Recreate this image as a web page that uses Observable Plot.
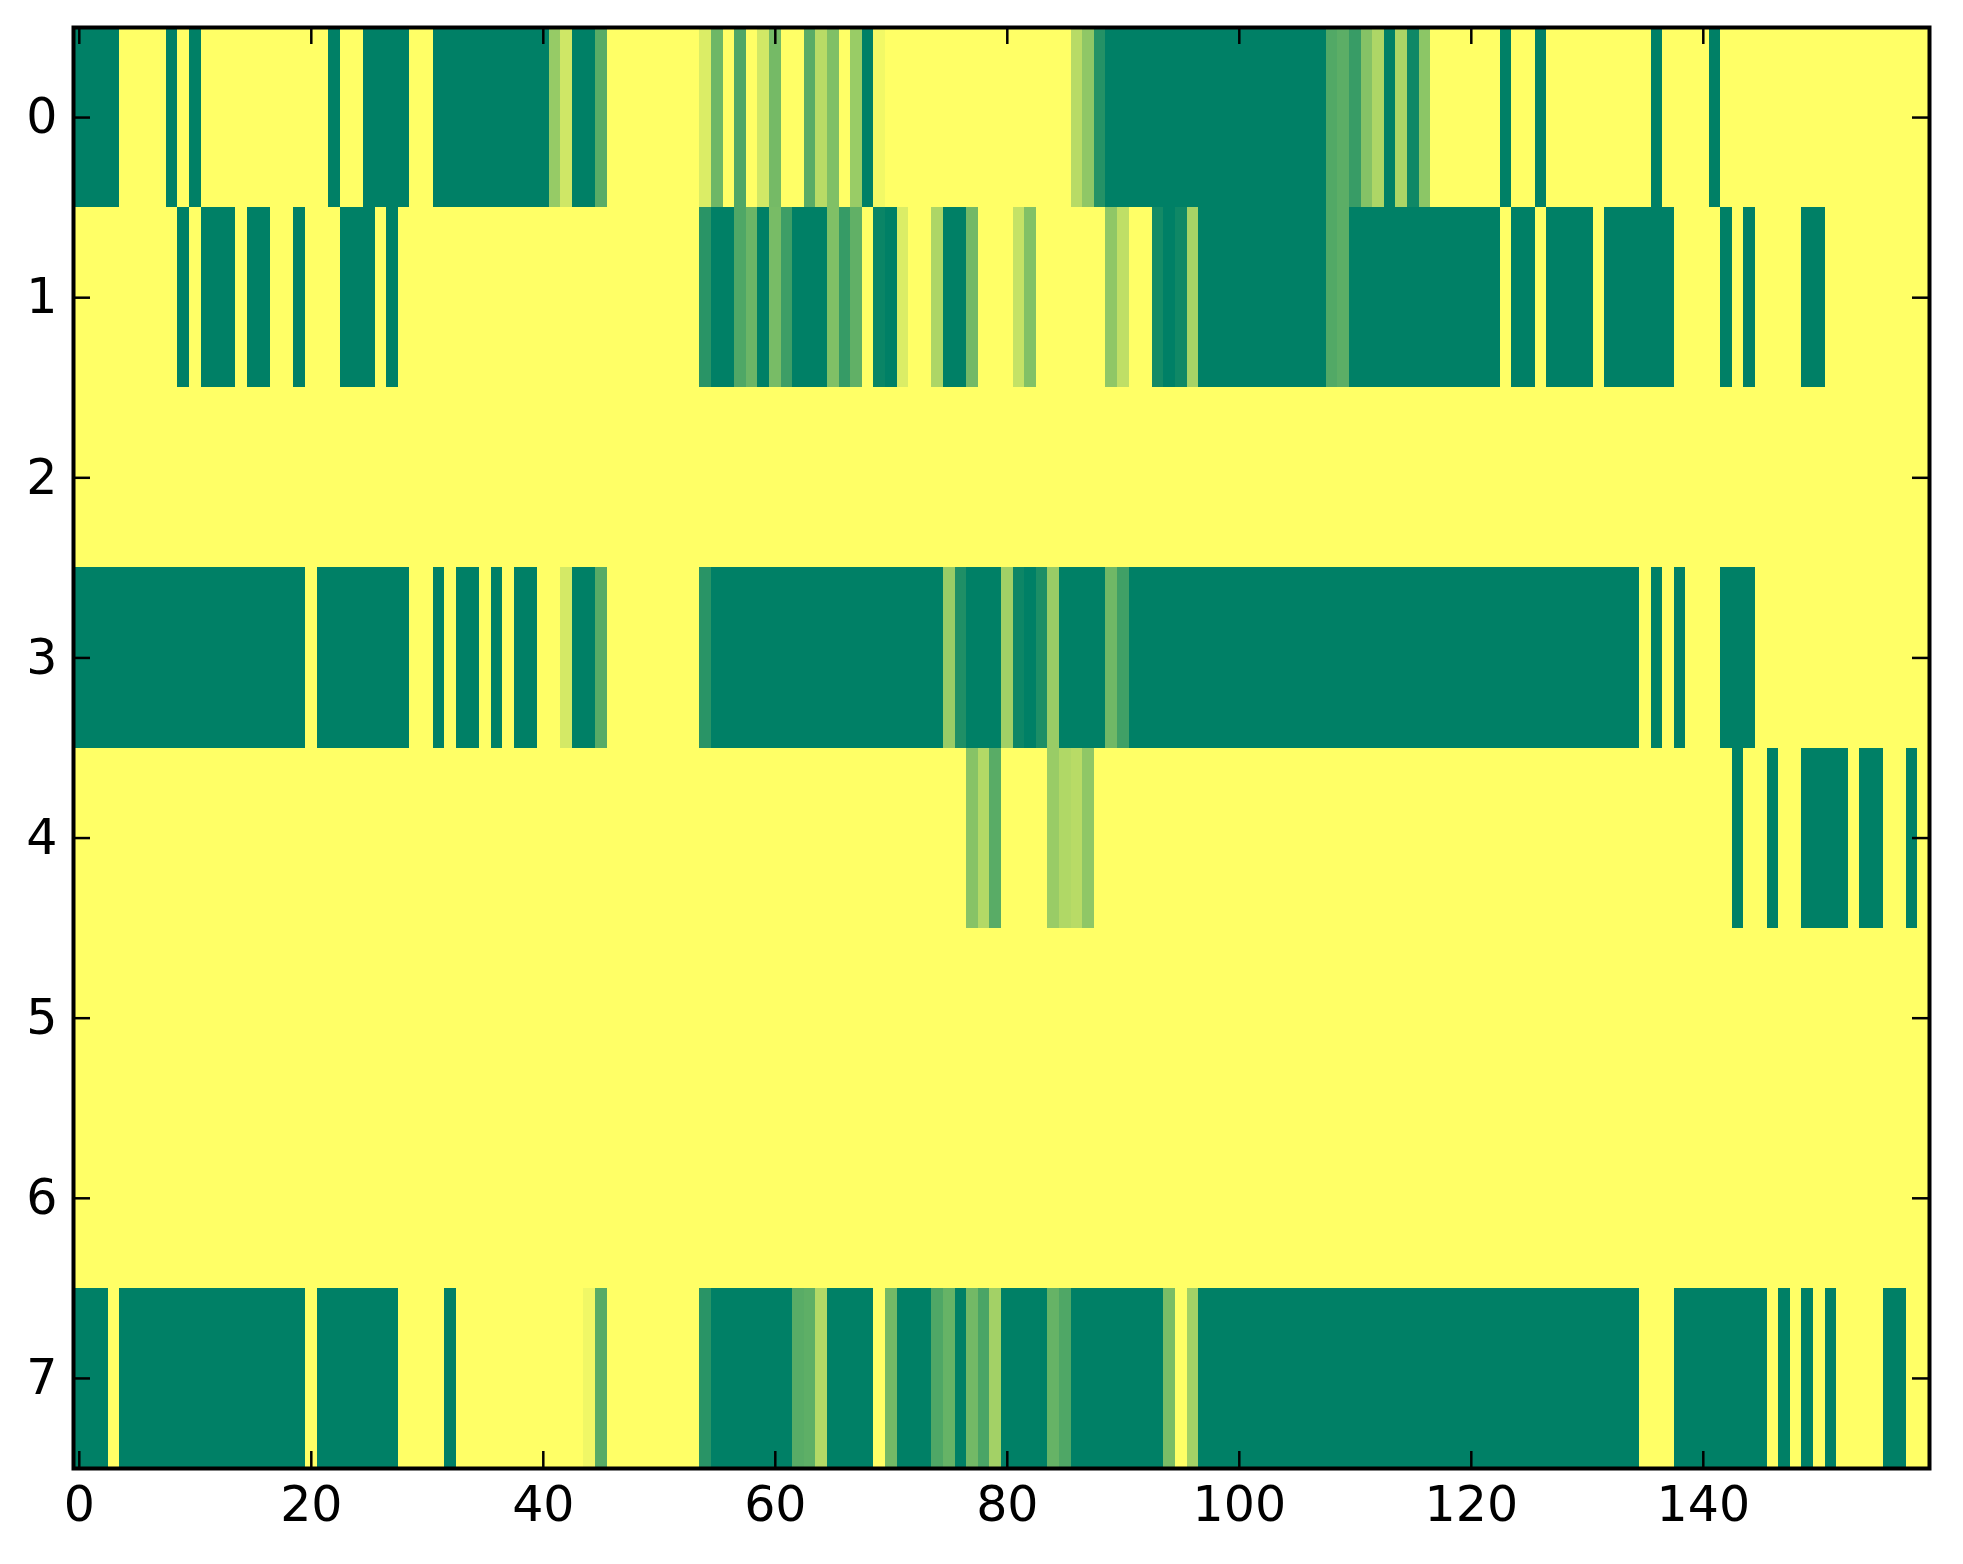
<!DOCTYPE html>
<html><head><meta charset="utf-8">
<script src="https://cdn.jsdelivr.net/npm/d3@7"></script>
<script src="https://cdn.jsdelivr.net/npm/@observablehq/plot@0.6"></script>
<style>html,body{margin:0;padding:0;background:#fff}</style>
</head><body><div id="chart"></div>
<script>
const row0 = [
0,0,0,0,1,1,1,1,0,1,
0,1,1,1,1,1,1,1,1,1,
1,1,0,1,1,0,0,0,0,1,
1,0,0,0,0,0,0,0,0,0,
0,0.59,0.81,0,0,0.35,1,1,1,1,
1,1,1,1,0.86,0.43,1,0.31,1,0.82,
0.46,1,1,0.35,0.72,0.5,1,0.6,0,0.95,
1,1,1,1,1,1,1,1,1,1,
1,1,1,1,1,1,0.72,0.56,0.14,0,
0,0,0,0,0,0,0,0,0,0,
0,0,0,0,0,0,0,0,0.32,0.36,
0.22,0.52,0.68,0,0.67,0.06,0.55,1,1,1,
1,1,1,0,1,1,0,1,1,1,
1,1,1,1,1,1,0,1,1,1,
1,0,1,1,1,1,1,1,1,1,
1,1,1,1,1,1,1,1,1,1];
const row1 = [
1,1,1,1,1,1,1,1,1,0,
1,0,0,0,1,0,0,1,1,0,
1,1,1,0,0,0,1,0,1,1,
1,1,1,1,1,1,1,1,1,1,
1,1,1,1,1,1,1,1,1,1,
1,1,1,1,0.16,0,0,0.31,0.42,0,
0.47,0.24,0,0,0,0.5,0.21,0.38,1,0.04,
0,0.86,1,1,0.68,0,0,0.45,1,1,
1,0.77,0.51,1,1,1,1,1,1,0.56,
0.75,1,1,0.08,0,0.06,0.65,0,0,0,
0,0,0,0,0,0,0,0,0.32,0.36,
0,0,0,0,0,0,0,0,0,0,
0,0,0,1,0,0,1,0,0,0,
0,1,0,0,0,0,0,0,1,1,
1,1,0,1,0,1,1,1,1,0,
0,1,1,1,1,1,1,1,1,1];
const row2 = [
1,1,1,1,1,1,1,1,1,1, 1,1,1,1,1,1,1,1,1,1,
1,1,1,1,1,1,1,1,1,1, 1,1,1,1,1,1,1,1,1,1,
1,1,1,1,1,1,1,1,1,1, 1,1,1,1,1,1,1,1,1,1,
1,1,1,1,1,1,1,1,1,1, 1,1,1,1,1,1,1,1,1,1,
1,1,1,1,1,1,1,1,1,1, 1,1,1,1,1,1,1,1,1,1,
1,1,1,1,1,1,1,1,1,1, 1,1,1,1,1,1,1,1,1,1,
1,1,1,1,1,1,1,1,1,1, 1,1,1,1,1,1,1,1,1,1,
1,1,1,1,1,1,1,1,1,1, 1,1,1,1,1,1,1,1,1,1];
const row3 = [
0,0,0,0,0,0,0,0,0,0,
0,0,0,0,0,0,0,0,0,0,
1,0,0,0,0,0,0,0,0,1,
1,0,1,0,0,1,0,1,0,0,
1,1,0.83,0,0,0.34,1,1,1,1,
1,1,1,1,0.16,0,0,0,0,0,
0,0,0,0,0,0,0,0,0,0,
0,0,0,0,0,0.6,0.12,0,0,0,
0.63,0.05,0,0.11,0.6,0,0,0,0,0.44,
0.25,0,0,0,0,0,0,0,0,0,
0,0,0,0,0,0,0,0,0,0,
0,0,0,0,0,0,0,0,0,0,
0,0,0,0,0,0,0,0,0,0,
0,0,0,0,0,1,0,1,0,1,
1,1,0,0,0,1,1,1,1,1,
1,1,1,1,1,1,1,1,1,1];
const row4 = [
1,1,1,1,1,1,1,1,1,1, 1,1,1,1,1,1,1,1,1,1,
1,1,1,1,1,1,1,1,1,1, 1,1,1,1,1,1,1,1,1,1,
1,1,1,1,1,1,1,1,1,1, 1,1,1,1,1,1,1,1,1,1,
1,1,1,1,1,1,1,1,1,1,
1,1,1,1,1,1,1,0.53,0.7,0.35,
1,1,1,1,0.6,0.69,0.72,0.56,1,1,
1,1,1,1,1,1,1,1,1,1, 1,1,1,1,1,1,1,1,1,1,
1,1,1,1,1,1,1,1,1,1, 1,1,1,1,1,1,1,1,1,1,
1,1,1,1,1,1,1,1,1,1,
1,1,1,0,1,1,0,1,1,0,
0,0,0,1,0,0,1,1,0,1];
const row5 = [
1,1,1,1,1,1,1,1,1,1, 1,1,1,1,1,1,1,1,1,1,
1,1,1,1,1,1,1,1,1,1, 1,1,1,1,1,1,1,1,1,1,
1,1,1,1,1,1,1,1,1,1, 1,1,1,1,1,1,1,1,1,1,
1,1,1,1,1,1,1,1,1,1, 1,1,1,1,1,1,1,1,1,1,
1,1,1,1,1,1,1,1,1,1, 1,1,1,1,1,1,1,1,1,1,
1,1,1,1,1,1,1,1,1,1, 1,1,1,1,1,1,1,1,1,1,
1,1,1,1,1,1,1,1,1,1, 1,1,1,1,1,1,1,1,1,1,
1,1,1,1,1,1,1,1,1,1, 1,1,1,1,1,1,1,1,1,1];
const row6 = [
1,1,1,1,1,1,1,1,1,1, 1,1,1,1,1,1,1,1,1,1,
1,1,1,1,1,1,1,1,1,1, 1,1,1,1,1,1,1,1,1,1,
1,1,1,1,1,1,1,1,1,1, 1,1,1,1,1,1,1,1,1,1,
1,1,1,1,1,1,1,1,1,1, 1,1,1,1,1,1,1,1,1,1,
1,1,1,1,1,1,1,1,1,1, 1,1,1,1,1,1,1,1,1,1,
1,1,1,1,1,1,1,1,1,1, 1,1,1,1,1,1,1,1,1,1,
1,1,1,1,1,1,1,1,1,1, 1,1,1,1,1,1,1,1,1,1,
1,1,1,1,1,1,1,1,1,1, 1,1,1,1,1,1,1,1,1,1];
const row7 = [
0,0,0,1,0,0,0,0,0,0,
0,0,0,0,0,0,0,0,0,0,
1,0,0,0,0,0,0,0,1,1,
1,1,0,1,1,1,1,1,1,1,
1,1,1,1,0.94,0.34,1,1,1,1,
1,1,1,1,0.16,0,0,0,0,0,
0,0,0.35,0.37,0.7,0,0,0,0,1,
0.45,0,0,0,0.31,0.4,0,0.45,0.29,0.64,
0,0,0,0,0.4,0.31,0,0,0,0,
0,0,0,0,0.48,1,0.64,0,0,0,
0,0,0,0,0,0,0,0,0,0,
0,0,0,0,0,0,0,0,0,0,
0,0,0,0,0,0,0,0,0,0,
0,0,0,0,0,1,1,1,0,0,
0,0,0,0,0,0,1,0,1,0,
1,0,1,1,1,1,0,0,1,1];

const rows = [row0, row1, row2, row3, row4, row5, row6, row7];
const xTicks = [0, 20, 40, 60, 80, 100, 120, 140];
const yTicks = [0, 1, 2, 3, 4, 5, 6, 7];

const cells = [];
rows.forEach((r, j) => r.forEach((v, i) => cells.push({col: i, row: j, value: v})));

const W = 1963, H = 1564, mL = 73, mT = 27, mR = 34, mB = 96;
const frameH = H - mT - mB, frameW = W - mL - mR, tick = 17;

const chart = Plot.plot({
  width: W, height: H,
  marginLeft: mL, marginTop: mT, marginRight: mR, marginBottom: mB,
  style: {fontFamily: "DejaVu Sans", fontSize: "49px", background: "white", color: "black"},
  x: {domain: [-0.5, 159.5], axis: null},
  y: {domain: [7.5, -0.5], axis: null},
  color: {type: "linear", domain: [0, 1], interpolate: d3.interpolateRgb("#008066", "#ffff66")},
  marks: [
    Plot.rect(cells, {x1: d => d.col - 0.5, x2: d => d.col + 0.5, y1: d => d.row - 0.5, y2: d => d.row + 0.5, fill: "value", shapeRendering: "crispEdges"}),
    Plot.ruleX(xTicks, {x: d => d, insetBottom: frameH - tick, stroke: "black", strokeWidth: 2.5}),
    Plot.ruleX(xTicks, {x: d => d, insetTop: frameH - tick, stroke: "black", strokeWidth: 2.5}),
    Plot.ruleY(yTicks, {y: d => d, insetRight: frameW - tick, stroke: "black", strokeWidth: 2.5}),
    Plot.ruleY(yTicks, {y: d => d, insetLeft: frameW - tick, stroke: "black", strokeWidth: 2.5}),
    Plot.axisX({ticks: xTicks, anchor: "bottom", tickSize: 0, tickPadding: 18, label: null, fontSize: 49, fill: "black"}),
    Plot.axisY({ticks: yTicks, anchor: "left", tickSize: 0, tickPadding: 16, label: null, fontSize: 49, fill: "black"}),
    Plot.frame({stroke: "black", strokeWidth: 4})
  ]
});
document.getElementById("chart").appendChild(chart);
</script>
</body></html>
